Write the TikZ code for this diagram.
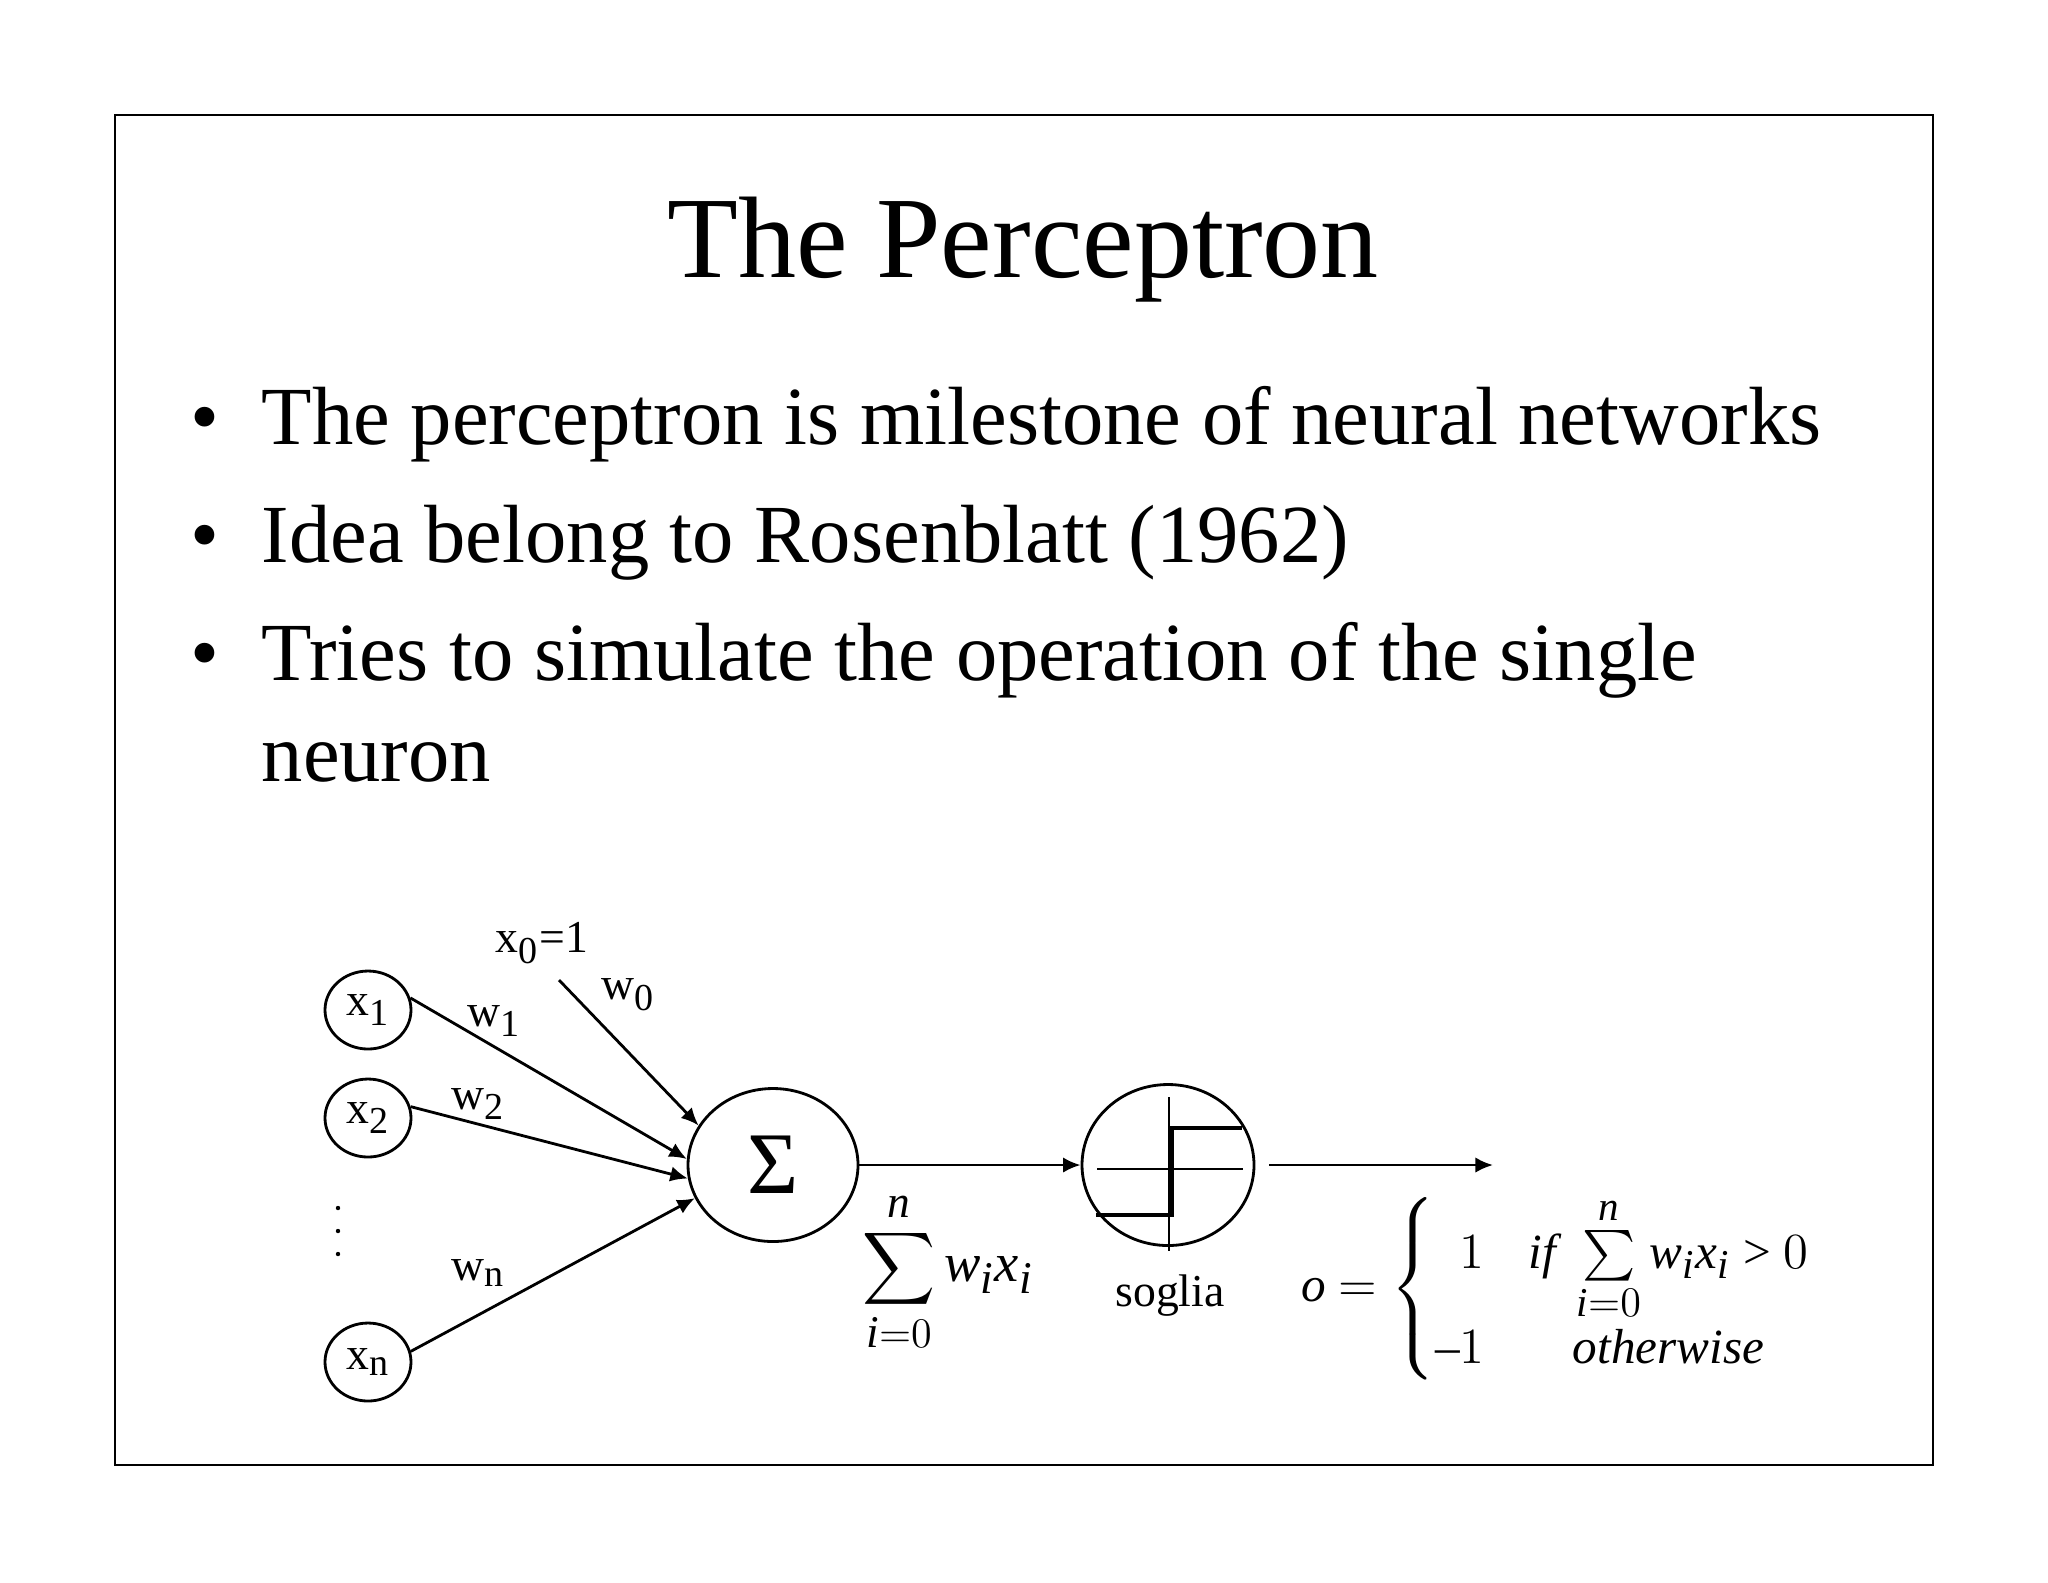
\documentclass[tikz,border=0pt]{standalone}
\usepackage{fontspec}
\setmainfont{Liberation Serif}
\usepackage{amsmath}
\usepackage[italic]{mathastext}
\usetikzlibrary{arrows.meta, shapes.geometric}

\begin{document}
\begin{tikzpicture}[x=0.1mm, y=-0.1mm,
  every node/.style={inner sep=0pt},
  bullettext/.style={anchor=base west, font=\fontsize{23.5}{28}\selectfont},
  unit/.style={draw, ellipse, line width=0.8pt, minimum width=8.6mm, minimum height=7.8mm, font=\fontsize{13}{15}\selectfont},
  lab/.style={font=\fontsize{13}{15}\selectfont},
  arr/.style={line width=0.8pt, -{Latex[length=5pt, width=4.4pt]}}
]
\fill[white] (0, 0) rectangle (2048, 1582);
\useasboundingbox (0, 0) rectangle (2048, 1582);
\draw[line width=0.6pt] (115, 115) rectangle (1933, 1465);

%title and bullets
\node[anchor=base, font=\fontsize{33}{38}\selectfont] (title) at (1023, 277) {The Perceptron};
\node[bullettext] (b1) at (190, 444) {•};
\node[bullettext] (t1) at (261, 444) {The perceptron is milestone of neural networks};
\node[bullettext] (b2) at (190, 562) {•};
\node[bullettext] (t2) at (261, 562) {Idea belong to Rosenblatt (1962)};
\node[bullettext] (b3) at (190, 680) {•};
\node[bullettext] (t3) at (261, 680) {Tries to simulate the operation of the single};
\node[bullettext] (t4) at (261, 781) {neuron};

%inputs
\node[unit] (x1) at (368, 1010) {x\textsubscript{1}};
\node[unit] (x2) at (368, 1118) {x\textsubscript{2}};
\node[unit] (xn) at (368, 1362) {x\textsubscript{n}};
\foreach \y in {1208, 1231, 1254}
  \fill (338, \y) circle (2.2);

%sum and threshold
\node[draw, ellipse, line width=0.8pt, minimum width=17mm, minimum height=15.3mm, font=\fontsize{25}{28}\selectfont] (sum) at (773, 1165) {Σ};
\node[draw, ellipse, line width=0.8pt, minimum width=17.2mm, minimum height=16.1mm] (sg) at (1168, 1165) {};
\begin{scope}[shift={(sg.center)}]
  \draw[line width=0.5pt] (-71, 4) -- (75, 4);
  \draw[line width=0.5pt] (1, -68) -- (1, 86);
  \draw[line width=1.4pt] (-72, 50) -- (4, 50) -- (4, -37) -- (74, -37);
\end{scope}

%bias
\node[lab] (x0) at (542, 943) {x\textsubscript{0}=1};
\coordinate (b0) at (559, 980);
\draw[arr] (b0) -- (sum.152);
\node[lab] (w0) at (628, 995) {w\textsubscript{0}};

%weighted inputs
\draw[arr] (x1.16) -- (sum.176);
\draw[arr] (x2.15) -- (sum.189);
\draw[arr] (xn.14) -- (sum.203);
\node[lab] (w1) at (494, 1021) {w\textsubscript{1}};
\node[lab] (w2) at (478, 1104) {w\textsubscript{2}};
\node[lab] (wn) at (478, 1273) {w\textsubscript{n}};

%output
\draw[arr] (sum.east) -- (sg.west);
\coordinate (out) at (1493, 1165);
\draw[arr] ([xshift=4]sg.east) -- (out);

%formulas
\node[font=\fontsize{15.5}{18}\selectfont] (net) at (948, 1272) {$\displaystyle\sum_{i=0}^{n} w_i x_i$};
\node[lab] (soglia) at (1170, 1296) {soglia};
\node[font=\fontsize{14}{17}\selectfont] (o) at (1557, 1289)
  {$\thickmuskip=4.5mu o=\left\{\begin{array}{@{}r@{\hspace{0.9em}}c@{}} 1 & \textit{if}\ \sum\limits_{i=0}^{n} w_i x_i > 0\\[6pt] -1 & \textit{otherwise}\end{array}\right.$};

\end{tikzpicture}
\end{document}
